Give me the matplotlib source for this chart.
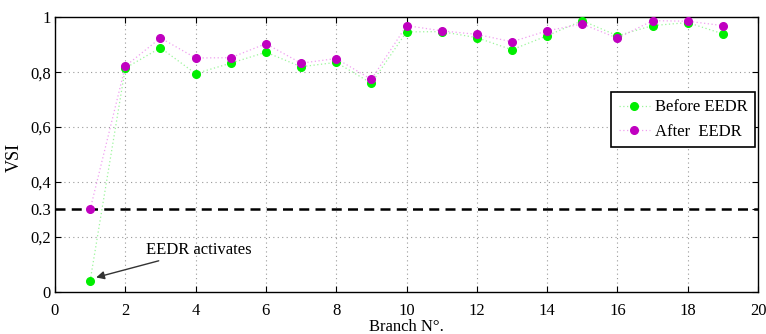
import matplotlib
matplotlib.use("Agg")
import matplotlib.pyplot as plt

plt.rcParams['font.family'] = ['Liberation Serif', 'DejaVu Serif']

# valeurs
branches = list(range(1, 20))
vsi_before = [0.04, 0.815, 0.889, 0.795, 0.833, 0.873, 0.82, 0.836, 0.76, 0.947,
              0.948, 0.926, 0.882, 0.933, 0.988, 0.933, 0.97, 0.981, 0.94]
vsi_after = [0.30, 0.822, 0.925, 0.852, 0.853, 0.904, 0.833, 0.85, 0.774, 0.97,
             0.951, 0.938, 0.911, 0.951, 0.976, 0.924, 0.988, 0.986, 0.97]
seuil = 0.3
yticks = [0, 0.2, 0.3, 0.4, 0.6, 0.8, 1]
ytick_labels = ['0', '0,2', '0.3', '0,4', '0,6', '0,8', '1']
xticks = list(range(0, 21, 2))

fig = plt.figure(figsize=(7.66, 3.34), dpi=100)
ax = fig.add_axes([0.0718, 0.1266, 0.9178, 0.8214])

# grille pointillee (sauf sur 0.3)
for xv in xticks[1:-1]:
    ax.axvline(xv, color='#999999', lw=0.8, ls=(0, (1, 3)), zorder=0)
for yv in [0.2, 0.4, 0.6, 0.8]:
    ax.axhline(yv, color='#999999', lw=0.8, ls=(0, (1, 3)), zorder=0)

ax.plot([0, 20], [seuil, seuil], color='black', lw=1.8, ls=(0, (4, 2.5)), zorder=2)

ax.plot(branches, vsi_before, ls=(0, (1, 2)), lw=0.9, color='#9cf59c',
        marker='o', ms=5.5, mfc='#00ee00', mec='#00ee00', label='Before EEDR', zorder=3)
ax.plot(branches, vsi_after, ls=(0, (1, 2)), lw=0.9, color='#f0a0f0',
        marker='o', ms=5.5, mfc='#c000c0', mec='#c000c0', label='After  EEDR', zorder=4)

ax.annotate('EEDR activates', xy=(1.17, 0.052), xytext=(2.6, 0.152),
            fontsize=12, va='center', ha='left',
            arrowprops=dict(arrowstyle='-|>', color='#333333', lw=1,
                            mutation_scale=12, shrinkA=0, shrinkB=0))

ax.set_xlim(0, 20)
ax.set_ylim(0, 1)
ax.set_xticks(xticks)
ax.set_yticks(yticks)
ax.set_yticklabels(ytick_labels)
ax.tick_params(direction='in', labelsize=12, length=4, top=True, right=True)
ax.tick_params(axis='x', pad=8)
ax.tick_params(axis='y', pad=3)
for s in ax.spines.values():
    s.set_linewidth(1)

ax.set_xlabel('Branch N°.', fontsize=12)
ax.xaxis.set_label_coords(0.5, -0.1, transform=ax.transAxes)
ax.xaxis.label.set_va('top')
ax.set_ylabel('VSI', fontsize=13)
ax.yaxis.set_label_coords(-0.046, 0.49)

leg = ax.legend(loc='upper left', bbox_to_anchor=(0.791, 0.728), borderaxespad=0,
                fontsize=12, frameon=True, fancybox=False, edgecolor='black',
                framealpha=1, handlelength=1.9, borderpad=0.45, labelspacing=0.5,
                handletextpad=0.3)
leg.get_frame().set_linewidth(1.2)

fig.savefig('out.png', dpi=100)
